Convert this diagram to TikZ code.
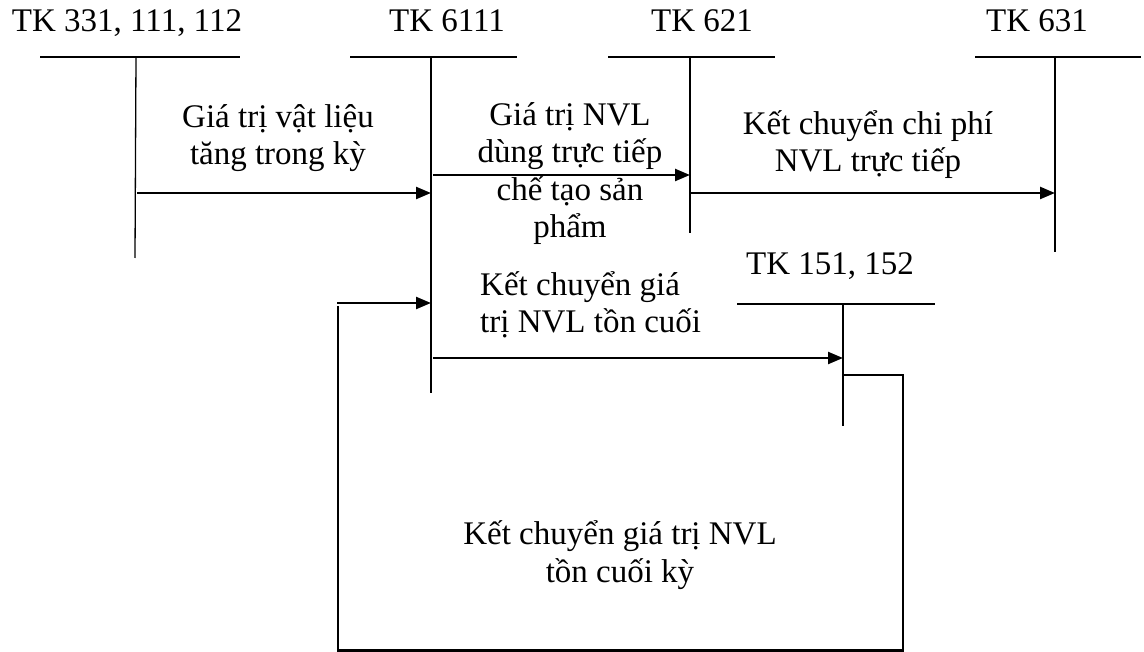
\documentclass[tikz,border=0pt]{standalone}
\usepackage{fontspec}
\setmainfont{Liberation Serif}
\usetikzlibrary{arrows.meta}
\begin{document}
\begin{tikzpicture}[x=1pt,y=-1pt,
  hbar/.style={line width=2pt},
  vbar/.style={line width=1.3pt},
  flow/.style={line width=2.4pt,-{Triangle[length=15pt,width=12pt]}},
  loopline/.style={line width=2.4pt},
  title/.style={font=\fontsize{33}{37.5}\selectfont, inner sep=0pt, anchor=base},
  lbl/.style={font=\fontsize{33}{37.5}\selectfont, inner sep=0pt, align=center, anchor=base},
]
\useasboundingbox (0,0) rectangle (1144,652);

% T-account titles
\node[title] (tA) at (127,32) {TK 331, 111, 112};
\node[title] (tB) at (447,32) {TK 6111};
\node[title] (tC) at (702,32) {TK 621};
\node[title] (tD) at (1037,32) {TK 631};
\node[title] (tE) at (830,275) {TK 151, 152};

% T-account bars
\draw[hbar] (40,57) -- (240,57);
\draw[vbar] (136,57) -- (135,258);
\draw[hbar] (350,57) -- (517,57);
\draw[vbar] (431,57) -- (431,393);
\draw[hbar] (608,57) -- (775,57);
\draw[vbar] (690,57) -- (690,233);
\draw[hbar] (975,57) -- (1141,57);
\draw[vbar] (1055,57) -- (1055,252);
\draw[hbar] (737,304) -- (935,304);
\draw[vbar] (843,304) -- (843,426);

% arrow end points on the account bars
\coordinate (a1s) at (137,193);
\coordinate (a1e) at (431,193);
\coordinate (a2s) at (433,175);
\coordinate (a2e) at (690,175);
\coordinate (a3s) at (691,193);
\coordinate (a3e) at (1055,193);
\coordinate (a4s) at (433,358);
\coordinate (a4e) at (843,358);
\coordinate (l1) at (843,375);
\coordinate (l2) at (903,375);
\coordinate (l3) at (903,650.5);
\coordinate (l4) at (338,650.5);
\coordinate (l5) at (338,306);
\coordinate (l6a) at (337,303);
\coordinate (l6) at (431,303);

\draw[flow] (a1s) -- (a1e);
\draw[flow] (a2s) -- (a2e);
\draw[flow] (a3s) -- (a3e);
\draw[flow] (a4s) -- (a4e);
\draw[loopline] (l1) -- (l2) -- (l3) -- (l4) -- (l5);
\draw[flow] (l6a) -- (l6);

% entry labels (anchored at the baseline of their last line)
\node[lbl] (e1) at (278,165) {Giá trị vật liệu\\tăng trong kỳ};
\node[lbl] (e2) at (570,238) {Giá trị NVL\\dùng trực tiếp\\chế tạo sản\\phẩm};
\node[lbl] (e3) at (868,172) {Kết chuyển chi phí\\NVL trực tiếp};
\node[lbl, align=left, anchor=base west] (e4) at (480,333) {Kết chuyển giá\\trị NVL tồn cuối};
\node[lbl] (e5) at (620,582) {Kết chuyển giá trị NVL\\tồn cuối kỳ};
\end{tikzpicture}
\end{document}
